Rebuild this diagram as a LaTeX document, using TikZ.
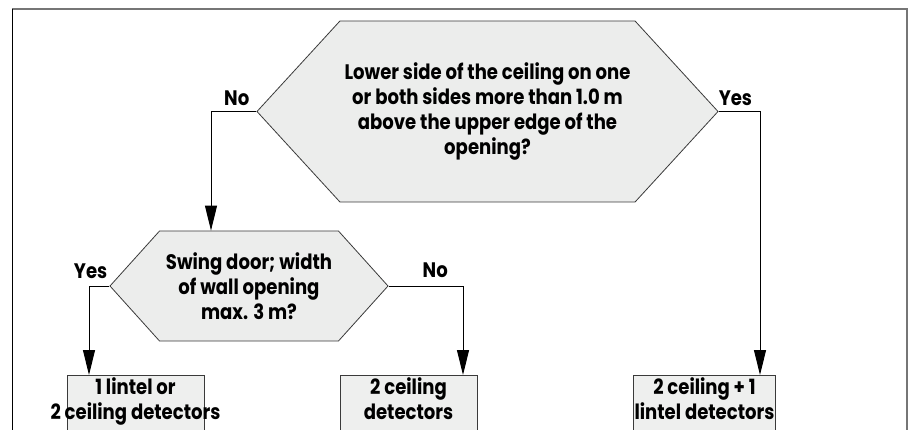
\documentclass[tikz,border=0pt]{standalone}
\usepackage{fontspec}
\setmainfont{Poppins}[FakeStretch=0.86]
\usetikzlibrary{arrows.meta,positioning,shapes.symbols}
\definecolor{ShapeGrey}{HTML}{ECEDEC}
\definecolor{BoxGrey}{HTML}{EEEFEE}
\definecolor{EdgeGrey}{HTML}{3A3A3A}
\definecolor{FrameGrey}{HTML}{767676}

\begin{document}
\begin{tikzpicture}[x=1pt,y=-1pt,
  font=\fontsize{21}{25}\selectfont\bfseries,
  query/.style={shape=signal,signal to=west and east,draw=EdgeGrey,line width=0.8pt,fill=ShapeGrey,inner sep=0pt,align=center},
  result/.style={draw=EdgeGrey,line width=0.8pt,fill=BoxGrey,anchor=north,minimum width=137pt,inner xsep=1pt,inner ysep=2pt,align=center,text depth=30pt},
  answer/.style={inner sep=0pt},
  flow/.style={line width=1pt,-{Triangle[length=25pt,width=12pt]}}]
  \useasboundingbox (0,0) rectangle (915,430);
  % frame
  \draw[FrameGrey,line width=1.4pt] (12,9) -- (907,9) -- (907,430);
  \draw[black,line width=1pt] (12,9) -- (12,430);
  % questions
  \node[query,minimum width=461pt,minimum height=181pt,signal pointer angle=95] (q1) at (487.5,111.5){Lower side of the ceiling on one\\or both sides more than 1.0 m\\above the upper edge of the\\opening?};
  \node[query,minimum width=278pt,minimum height=110pt,signal pointer angle=96] (q2) at (249,286){Swing door; width\\of wall opening\\max. 3 m?};
  % results
  \node[result] (b1) at (135.5,375){1 lintel or\\\makebox[0pt]{2 ceiling detectors}};
  \node[result] (b2) at (408.5,375){2 ceiling\\detectors};
  \node[result] (b3) at (704.5,375){2 ceiling + 1\\lintel detectors};
  % branches
  \coordinate (noArm) at (211,0);
  \coordinate (yesArm) at (760,0);
  \coordinate (yesLeg) at (89,0);
  \coordinate (noLeg) at (463,0);
  \draw[flow] (q1.west) -| (q2.north -| noArm);
  \draw[flow] (q1.east) -| (b3.north -| yesArm);
  \draw[flow] (q2.west) -| (b1.north -| yesLeg);
  \draw[flow] (q2.east) -| (b2.north -| noLeg);
  \node[answer,anchor=base east,xshift=-7pt,yshift=6pt] (noA) at (q1.west){No};
  \node[answer,anchor=base west,yshift=6pt] (yesA) at (q1.east){Yes};
  \node[answer,anchor=base east,xshift=-2pt,yshift=7pt] (yesB) at (q2.west){Yes};
  \node[answer,anchor=base west,xshift=34pt,yshift=9pt] (noB) at (q2.east){No};
\end{tikzpicture}
\end{document}
